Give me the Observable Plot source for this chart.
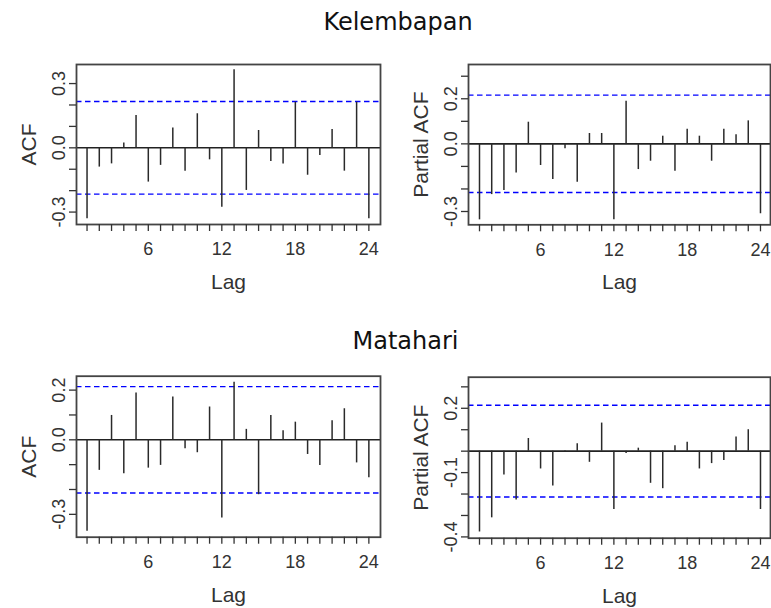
<!DOCTYPE html>
<html>
<head>
<meta charset="utf-8">
<script src="https://cdn.jsdelivr.net/npm/d3@7"></script>
<script src="https://cdn.jsdelivr.net/npm/@observablehq/plot@0.6"></script>
<style>
  html, body { margin: 0; padding: 0; background: #fff; }
  #wrap { position: relative; width: 771px; height: 608px; overflow: hidden; background: #fff; }
  .panel { position: absolute; }
  .title { position: absolute; font-family: "DejaVu Sans", sans-serif; font-size: 24px; line-height: 24px; color: #111; white-space: nowrap; transform: translateX(-50%); }
</style>
</head>
<body>
<div id="wrap"></div>
<script>
// ---- data ----
const lags = [1, 2, 3, 4, 5, 6, 7, 8, 9, 10, 11, 12, 13, 14, 15, 16, 17, 18, 19, 20, 21, 22, 23, 24];

const kelembapanACF = [-0.331, -0.090, -0.075, 0.022, 0.151, -0.160, -0.082, 0.092, -0.109, 0.159, -0.056, -0.277,
                        0.365, -0.199, 0.081, -0.064, -0.075, 0.213, -0.128, -0.036, 0.086, -0.109, 0.213, -0.331];
const kelembapanPACF = [-0.337, -0.225, -0.207, -0.129, 0.096, -0.096, -0.158, -0.022, -0.170, 0.046, 0.046, -0.337,
                         0.189, -0.114, -0.077, 0.034, -0.121, 0.065, 0.034, -0.077, 0.065, 0.040, 0.102, -0.310];
const matahariACF = [-0.368, -0.123, 0.098, -0.137, 0.188, -0.114, -0.103, 0.172, -0.036, -0.052, 0.132, -0.315,
                      0.232, 0.042, -0.221, 0.098, 0.036, 0.071, -0.059, -0.103, 0.077, 0.125, -0.093, -0.153];
const matahariPACF = [-0.377, -0.311, -0.111, -0.228, 0.059, -0.083, -0.163, 0.002, 0.034, -0.052, 0.131, -0.272,
                      -0.011, 0.014, -0.150, -0.175, 0.025, 0.041, -0.083, -0.058, -0.044, 0.066, 0.100, -0.272];

const kelembapanCI = 0.216;
const matahariCI = 0.214;

const titles = ["Kelembapan", "Matahari"];
const yLabels = ["ACF", "Partial ACF"];
const xLabel = "Lag";

const xTickLabels = [6, 12, 18, 24];

const yTicksP1 = [-0.3, -0.2, -0.1, 0.0, 0.1, 0.2, 0.3];
const yLabelsP1 = [-0.3, 0.0, 0.3];
const yTicksP2 = [-0.3, -0.2, -0.1, 0.0, 0.1, 0.2, 0.3];
const yLabelsP2 = [-0.3, 0.0, 0.2];
const yTicksP3 = [-0.3, -0.2, -0.1, 0.0, 0.1, 0.2];
const yLabelsP3 = [-0.3, 0.0, 0.2];
const yTicksP4 = [-0.4, -0.3, -0.2, -0.1, 0.0, 0.1, 0.2, 0.3];
const yLabelsP4 = [-0.4, -0.1, 0.2];

// ---- drawing ----
const wrap = document.getElementById("wrap");

function panel(cfg) {
  const rows = lags.map((lag, i) => ({lag, v: cfg.values[i]}));
  const fmtY = d => cfg.yLabels.some(l => Math.abs(l - d) < 1e-9) ? d.toFixed(1) : "";
  const fmtX = d => xTickLabels.includes(d) ? String(d) : "";
  const svg = Plot.plot({
    width: cfg.width,
    height: cfg.height,
    marginLeft: cfg.ml,
    marginRight: cfg.mr,
    marginTop: cfg.mt,
    marginBottom: cfg.mb,
    style: {fontFamily: "'Liberation Sans', Arial, sans-serif", color: "#333", background: "transparent", overflow: "visible"},
    x: {domain: cfg.xDomain},
    y: {domain: cfg.yDomain},
    marks: [
      Plot.ruleY([cfg.ci, -cfg.ci], {stroke: "#0000ff", strokeWidth: 1.4, strokeDasharray: "5.5,3.5"}),
      Plot.ruleY([0], {stroke: "#222", strokeWidth: 1.6}),
      Plot.ruleX(rows, {x: "lag", y1: 0, y2: "v", stroke: "#2a2a2a", strokeWidth: 1.5}),
      Plot.frame({stroke: "#444", strokeWidth: 1.8}),
      Plot.axisX({ticks: lags, tickFormat: fmtX, tickSize: 7, tickPadding: 11, fontSize: 18, stroke: "#333", strokeWidth: 1.3, label: null}),
      Plot.axisY({ticks: cfg.yTicks, tickFormat: fmtY, tickSize: 7, tickPadding: 5, tickRotate: -90, fontSize: 18, stroke: "#333", strokeWidth: 1.3, label: null}),
      Plot.text([xLabel], {frameAnchor: "bottom", dy: 64.5, lineAnchor: "bottom", textAnchor: "middle", fontSize: 21, fill: "#333"}),
      Plot.text([cfg.yLabel], {frameAnchor: "left", dx: -41, rotate: -90, lineAnchor: "bottom", textAnchor: "middle", fontSize: 21, fill: "#333"})
    ]
  });
  const div = document.createElement("div");
  div.className = "panel";
  div.style.left = cfg.left + "px";
  div.style.top = cfg.top + "px";
  div.appendChild(svg);
  wrap.appendChild(div);
}

function title(text, cx, top) {
  const d = document.createElement("div");
  d.className = "title";
  d.style.left = cx + "px";
  d.style.top = top + "px";
  d.textContent = text;
  wrap.appendChild(d);
}

title(titles[0], 398, 9.7);
title(titles[1], 405.5, 329);

panel({left: 0, top: 55, width: 385, height: 245, ml: 76, mr: 5, mt: 9, mb: 76,
       xDomain: [0.14, 24.95], yDomain: [-0.358, 0.389], values: kelembapanACF, ci: kelembapanCI,
       yTicks: yTicksP1, yLabels: yLabelsP1, yLabel: yLabels[0]});
panel({left: 385, top: 55, width: 386, height: 245, ml: 83, mr: 1, mt: 9, mb: 75.7,
       xDomain: [0.1, 24.82], yDomain: [-0.359, 0.352], values: kelembapanPACF, ci: kelembapanCI,
       yTicks: yTicksP2, yLabels: yLabelsP2, yLabel: yLabels[1]});
panel({left: 0, top: 367, width: 385, height: 241, ml: 76, mr: 5, mt: 8.7, mb: 71.3,
       xDomain: [0.14, 24.95], yDomain: [-0.392, 0.256], values: matahariACF, ci: matahariCI,
       yTicks: yTicksP3, yLabels: yLabelsP3, yLabel: yLabels[0]});
panel({left: 385, top: 367, width: 386, height: 241, ml: 83, mr: 1, mt: 9.7, mb: 70.3,
       xDomain: [0.1, 24.82], yDomain: [-0.406, 0.345], values: matahariPACF, ci: matahariCI,
       yTicks: yTicksP4, yLabels: yLabelsP4, yLabel: yLabels[1]});
</script>
</body>
</html>
